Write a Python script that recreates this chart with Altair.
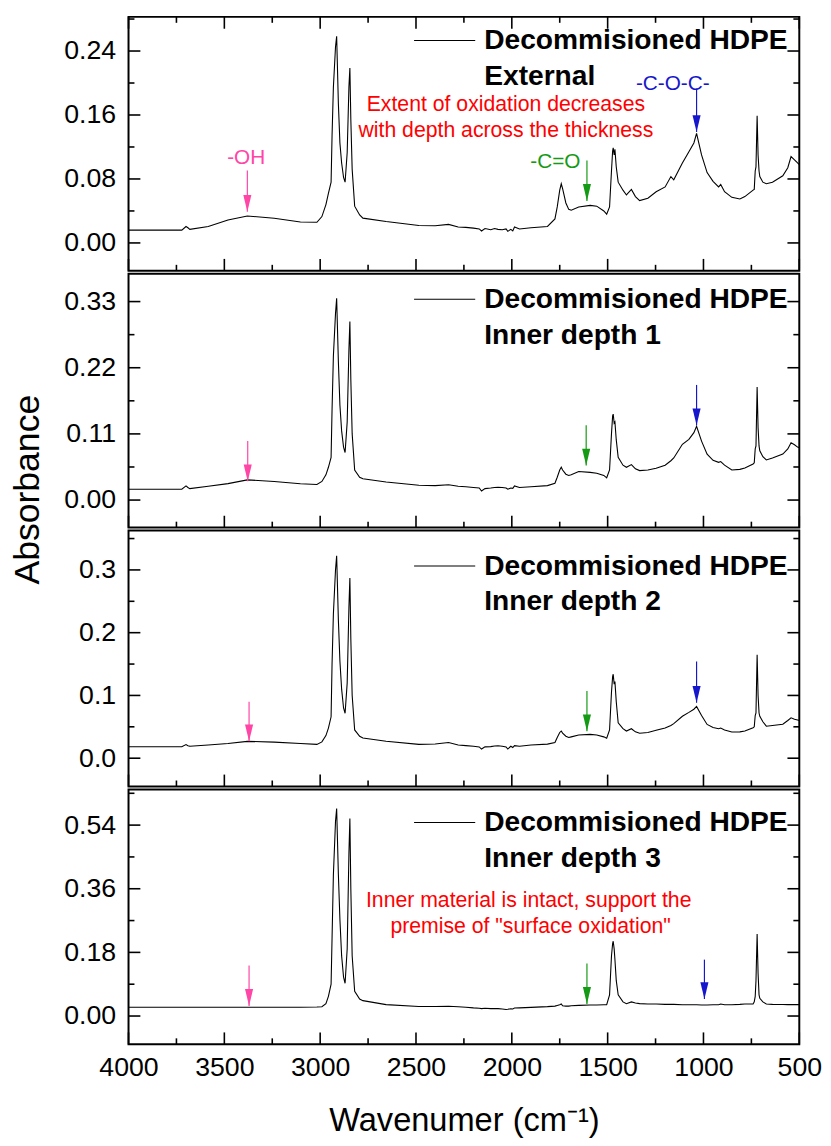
import altair as alt
import pandas as pd

# ---------------- data ----------------
WN = [4000, 3800, 3722, 3700, 3690, 3680, 3584, 3481, 3380, 3240,
      3103, 3017, 2991, 2970, 2957, 2943, 2938, 2931, 2920, 2914,
      2905, 2897, 2888, 2878, 2870, 2859, 2850, 2845, 2840, 2833,
      2820, 2794, 2777, 2656, 2485, 2400, 2330, 2280, 2240, 2200,
      2170, 2158, 2140, 2110, 2090, 2072, 2050, 2030, 2021, 2005,
      1995, 1986, 1960, 1900, 1814, 1775, 1763, 1750, 1742, 1735,
      1718, 1703, 1690, 1651, 1591, 1557, 1520, 1505, 1490, 1480,
      1474, 1471, 1466, 1462, 1455, 1445, 1420, 1402, 1376, 1355,
      1333, 1290, 1247, 1200, 1170, 1155, 1110, 1076, 1050, 1036,
      1010, 981, 950, 921, 910, 890, 852, 810, 784, 741,
      735, 730, 726, 720, 715, 710, 706, 690, 672, 640,
      586, 560, 543, 525, 509, 500]

EXTERNAL = [0.016, 0.016, 0.016, 0.0205, 0.019, 0.017, 0.0205, 0.0288, 0.0337, 0.0308,
            0.0262, 0.0258, 0.033, 0.048, 0.062, 0.076, 0.134, 0.195, 0.245, 0.2585,
            0.174, 0.125, 0.100, 0.082, 0.076, 0.113, 0.195, 0.2187, 0.154, 0.092,
            0.046, 0.035, 0.031, 0.0267, 0.0218, 0.0215, 0.0232, 0.020, 0.0195, 0.0185,
            0.0175, 0.015, 0.018, 0.0165, 0.018, 0.017, 0.0165, 0.0175, 0.0145, 0.017,
            0.015, 0.020, 0.0175, 0.019, 0.0206, 0.030, 0.045, 0.066, 0.074, 0.068,
            0.050, 0.042, 0.041, 0.045, 0.047, 0.046, 0.040, 0.036, 0.045, 0.090,
            0.115, 0.119, 0.110, 0.117, 0.095, 0.076, 0.066, 0.060, 0.067, 0.058,
            0.053, 0.056, 0.064, 0.070, 0.083, 0.079, 0.100, 0.114, 0.125, 0.137,
            0.110, 0.088, 0.077, 0.070, 0.073, 0.064, 0.057, 0.055, 0.058, 0.066,
            0.067, 0.090, 0.095, 0.159, 0.110, 0.090, 0.083, 0.076, 0.074, 0.076,
            0.084, 0.094, 0.108, 0.104, 0.100, 0.098]

DEPTH1 = [0.018, 0.018, 0.018, 0.0235, 0.021, 0.019, 0.0229, 0.0273, 0.0335, 0.031,
          0.027, 0.026, 0.031, 0.042, 0.0545, 0.071, 0.150, 0.240, 0.310, 0.3354,
          0.230, 0.158, 0.115, 0.088, 0.079, 0.130, 0.250, 0.297, 0.200, 0.110,
          0.050, 0.038, 0.0355, 0.030, 0.0245, 0.024, 0.0255, 0.023, 0.022, 0.021,
          0.020, 0.015, 0.019, 0.020, 0.021, 0.0213, 0.021, 0.020, 0.018, 0.020,
          0.0195, 0.0235, 0.021, 0.022, 0.024, 0.028, 0.038, 0.050, 0.0545, 0.050,
          0.043, 0.041, 0.042, 0.0474, 0.046, 0.0447, 0.041, 0.037, 0.050, 0.110,
          0.140, 0.143, 0.128, 0.130, 0.100, 0.071, 0.058, 0.0545, 0.059, 0.052,
          0.049, 0.050, 0.053, 0.058, 0.0654, 0.070, 0.0927, 0.101, 0.112, 0.1227,
          0.098, 0.0764, 0.066, 0.0627, 0.064, 0.058, 0.050, 0.051, 0.0534, 0.060,
          0.062, 0.085, 0.090, 0.188, 0.120, 0.090, 0.0818, 0.072, 0.0666, 0.070,
          0.0764, 0.085, 0.0954, 0.092, 0.088, 0.087]

DEPTH2 = [0.0182, 0.0182, 0.0182, 0.0218, 0.020, 0.019, 0.0209, 0.0235, 0.0268, 0.0256,
          0.0235, 0.022, 0.026, 0.036, 0.048, 0.066, 0.150, 0.230, 0.300, 0.3225,
          0.220, 0.155, 0.110, 0.080, 0.0716, 0.120, 0.240, 0.287, 0.190, 0.100,
          0.045, 0.035, 0.0323, 0.0271, 0.022, 0.0225, 0.025, 0.021, 0.020, 0.019,
          0.018, 0.0146, 0.018, 0.0185, 0.0195, 0.0198, 0.019, 0.018, 0.0146, 0.019,
          0.017, 0.020, 0.019, 0.021, 0.0224, 0.025, 0.033, 0.041, 0.0433, 0.040,
          0.035, 0.033, 0.034, 0.037, 0.038, 0.037, 0.034, 0.0318, 0.045, 0.105,
          0.130, 0.1338, 0.118, 0.122, 0.090, 0.0564, 0.047, 0.0433, 0.047, 0.042,
          0.0397, 0.041, 0.0444, 0.048, 0.0522, 0.055, 0.0668, 0.073, 0.078, 0.0825,
          0.068, 0.0538, 0.049, 0.047, 0.048, 0.045, 0.0418, 0.042, 0.0433, 0.0486,
          0.050, 0.068, 0.072, 0.165, 0.100, 0.072, 0.0668, 0.058, 0.051, 0.052,
          0.054, 0.060, 0.0643, 0.062, 0.061, 0.060]

DEPTH3 = [0.025, 0.025, 0.025, 0.025, 0.025, 0.025, 0.025, 0.025, 0.025, 0.025,
          0.025, 0.0255, 0.0262, 0.035, 0.0557, 0.090, 0.220, 0.400, 0.550, 0.587,
          0.400, 0.2736, 0.170, 0.110, 0.0927, 0.190, 0.460, 0.559, 0.360, 0.170,
          0.070, 0.048, 0.0435, 0.0323, 0.0268, 0.027, 0.0275, 0.026, 0.025, 0.023,
          0.022, 0.021, 0.022, 0.021, 0.0215, 0.021, 0.020, 0.0185, 0.019, 0.0205,
          0.020, 0.0225, 0.023, 0.0245, 0.0265, 0.028, 0.030, 0.032, 0.034, 0.029,
          0.028, 0.028, 0.029, 0.030, 0.031, 0.031, 0.032, 0.0323, 0.060, 0.170,
          0.205, 0.2115, 0.190, 0.160, 0.100, 0.060, 0.040, 0.035, 0.040, 0.037,
          0.035, 0.034, 0.034, 0.033, 0.033, 0.033, 0.032, 0.032, 0.032, 0.032,
          0.031, 0.031, 0.032, 0.032, 0.034, 0.032, 0.032, 0.033, 0.034, 0.034,
          0.040, 0.0557, 0.100, 0.2318, 0.120, 0.060, 0.050, 0.040, 0.034, 0.033,
          0.0325, 0.0323, 0.0323, 0.0323, 0.0323, 0.0323]

SERIES = [EXTERNAL, DEPTH1, DEPTH2, DEPTH3]
PANEL_NAMES = ["External", "Inner depth 1", "Inner depth 2", "Inner depth 3"]
LEGEND_TITLE = "Decommisioned HDPE"

Y_DOMAINS = [[-0.0348, 0.2827], [-0.0458, 0.3763], [-0.045, 0.3627], [-0.0799, 0.641]]
Y_MAJOR = [[0, 0.08, 0.16, 0.24], [0, 0.11, 0.22, 0.33], [0, 0.1, 0.2, 0.3], [0, 0.18, 0.36, 0.54]]
Y_MINOR = [[0.04, 0.12, 0.20, 0.28], [0.055, 0.165, 0.275], [0.05, 0.15, 0.25, 0.35], [0.09, 0.27, 0.45, 0.63]]
Y_FORMAT = [".2f", ".2f", ".1f", ".2f"]
X_MAJOR = [4000, 3500, 3000, 2500, 2000, 1500, 1000, 500]
X_MINOR = [3750, 3250, 2750, 2250, 1750, 1250, 750]

# arrows (annotation markers)
KINDS = ["-OH", "-C=O", "-C-O-C-"]
KIND_COLORS = ["#ff45a5", "#159a15", "#1616cc"]
ARROW_WN = [[3380, 1608, 1036], [3378, 1612, 1036], [3371, 1608, 1036], [3371, 1608, 995]]
ARROW_TOP = [[0.0907, 0.103, 0.193], [0.0982, 0.1243, 0.1914], [0.0899, 0.1071, 0.1541], [0.1428, 0.1483, 0.1595]]
ARROW_TIP = [[0.039, 0.0526, 0.1387], [0.0311, 0.0573, 0.1243], [0.0271, 0.0428, 0.0883], [0.0287, 0.0342, 0.0481]]
KIND_LABEL_WN = [3386, 1773, 1160]
KIND_LABEL_Y = [0.1067, 0.1006, 0.199]

LEGEND_LINE_WN = [2510, 2191]
LEGEND_TEXT_WN = 2144
LEGEND_Y1 = [0.2532, 0.3338, 0.3063, 0.5472]
LEGEND_Y2 = [0.209, 0.2749, 0.2498, 0.446]

NOTE1 = ["Extent of oxidation decreases", "with depth across the thickness"]
NOTE1_WN = [2031, 2031]
NOTE1_Y = [0.172, 0.140]
NOTE4 = ["Inner material is intact, support the", "premise of \"surface oxidation\""]
NOTE4_WN = [1912, 1902]
NOTE4_Y = [0.3265, 0.2513]

HEIGHTS = [257, 257, 259, 258]
WIDTH = 679
FONT = "Liberation Sans"
HEAD = "M -0.48 -1 L 0.48 -1 L 0 1 Z"
MAJOR_LEN = 12
MINOR_LEN = 6


def make_panel(i):
    xs = alt.Scale(domain=[500, 4000], reverse=True, nice=False, zero=False)
    ys = alt.Scale(domain=Y_DOMAINS[i], nice=False, zero=False)
    H = HEIGHTS[i]
    spec = pd.DataFrame({"wn": WN, "a": SERIES[i]})

    if i == 3:
        xaxis = alt.Axis(values=X_MAJOR, format="d", tickSize=0, tickOpacity=0, domain=False,
                         grid=False, labelFontSize=27, labelPadding=11, labelFlush=False,
                         labelOverlap=False, title="Wavenumer (cm⁻¹)", titleFontSize=33,
                         titleFontWeight="normal", titlePadding=24)
    else:
        xaxis = None
    yaxis = alt.Axis(values=Y_MAJOR[i], format=Y_FORMAT[i], tickSize=0, tickOpacity=0,
                     domain=False, grid=False, labelFontSize=27, labelPadding=13, title=None)

    main = alt.Chart(spec).mark_line(color="black", strokeWidth=1.1).encode(
        x=alt.X("wn:Q", scale=xs, axis=xaxis),
        y=alt.Y("a:Q", scale=ys, axis=yaxis),
    )

    # inward ticks on all sides (major + minor)
    layers = [main]
    for vals, ln in ((X_MAJOR, MAJOR_LEN), (X_MINOR, MINOR_LEN)):
        d = pd.DataFrame({"v": vals})
        layers.append(alt.Chart(d).mark_rule(color="black", strokeWidth=1.6).encode(
            x=alt.X("v:Q", scale=xs, axis=None), y=alt.value(H), y2=alt.value(H - ln)))
        if i == 0:
            layers.append(alt.Chart(d).mark_rule(color="black", strokeWidth=1.6).encode(
                x=alt.X("v:Q", scale=xs, axis=None), y=alt.value(0), y2=alt.value(ln)))
    for vals, ln in ((Y_MAJOR[i], MAJOR_LEN), (Y_MINOR[i], MINOR_LEN)):
        d = pd.DataFrame({"v": vals})
        layers.append(alt.Chart(d).mark_rule(color="black", strokeWidth=1.6).encode(
            y=alt.Y("v:Q", scale=ys, axis=None), x=alt.value(0), x2=alt.value(ln)))
        layers.append(alt.Chart(d).mark_rule(color="black", strokeWidth=1.6).encode(
            y=alt.Y("v:Q", scale=ys, axis=None), x=alt.value(WIDTH), x2=alt.value(WIDTH - ln)))

    color = alt.Color("kind:N", scale=alt.Scale(domain=KINDS, range=KIND_COLORS), legend=None)
    arr = pd.DataFrame({"kind": KINDS, "wn": ARROW_WN[i], "top": ARROW_TOP[i], "tip": ARROW_TIP[i]})
    layers.append(alt.Chart(arr).mark_rule(strokeWidth=1.2).encode(
        x=alt.X("wn:Q", scale=xs, axis=None),
        y=alt.Y("top:Q", scale=ys, axis=None), y2="tip:Q", color=color))
    layers.append(alt.Chart(arr).mark_point(shape=HEAD, size=290, filled=True, opacity=1,
                                            strokeWidth=0, yOffset=-8.5).encode(
        x=alt.X("wn:Q", scale=xs, axis=None),
        y=alt.Y("tip:Q", scale=ys, axis=None), color=color))

    leg = pd.DataFrame({"x1": [LEGEND_LINE_WN[0]], "x2": [LEGEND_LINE_WN[1]], "y": [LEGEND_Y1[i]]})
    layers.append(alt.Chart(leg).mark_rule(color="black", strokeWidth=1.1).encode(
        x=alt.X("x1:Q", scale=xs, axis=None), x2="x2:Q",
        y=alt.Y("y:Q", scale=ys, axis=None)))
    legt = pd.DataFrame({"t": [LEGEND_TITLE, PANEL_NAMES[i]],
                         "wn": [LEGEND_TEXT_WN, LEGEND_TEXT_WN],
                         "y": [LEGEND_Y1[i], LEGEND_Y2[i]]})
    layers.append(alt.Chart(legt).mark_text(font=FONT, fontSize=28.5, fontWeight="bold",
                                            align="left", baseline="middle", color="black").encode(
        x=alt.X("wn:Q", scale=xs, axis=None), y=alt.Y("y:Q", scale=ys, axis=None), text="t:N"))

    notes = None
    if i == 0:
        lab = pd.DataFrame({"kind": KINDS, "wn": KIND_LABEL_WN, "y": KIND_LABEL_Y})
        layers.append(alt.Chart(lab).mark_text(font=FONT, fontSize=21, align="center",
                                               baseline="middle").encode(
            x=alt.X("wn:Q", scale=xs, axis=None), y=alt.Y("y:Q", scale=ys, axis=None),
            text="kind:N", color=color))
        notes = pd.DataFrame({"t": NOTE1, "wn": NOTE1_WN, "y": NOTE1_Y})
    elif i == 3:
        notes = pd.DataFrame({"t": NOTE4, "wn": NOTE4_WN, "y": NOTE4_Y})
    if notes is not None:
        layers.append(alt.Chart(notes).mark_text(font=FONT, fontSize=21.5, align="center",
                                                 baseline="middle", color="#ff0000").encode(
            x=alt.X("wn:Q", scale=xs, axis=None), y=alt.Y("y:Q", scale=ys, axis=None),
            text="t:N"))

    return alt.layer(*layers).resolve_axis(x="independent", y="independent").properties(
        width=WIDTH, height=H)


chart = alt.vconcat(*[make_panel(i) for i in range(4)], spacing=0).properties(
    title=alt.TitleParams(text="Absorbance", orient="left", anchor="middle", font=FONT,
                          fontSize=36, fontWeight="normal", color="black", offset=16, dx=88),
    padding={"left": 2, "top": 0, "right": 0, "bottom": 2},
).configure_view(stroke="black", strokeWidth=2).configure_axis(
    labelFont=FONT, titleFont=FONT, labelColor="black", titleColor="black"
)

chart.save("out.html", embed_options={"renderer": "svg", "actions": False})
